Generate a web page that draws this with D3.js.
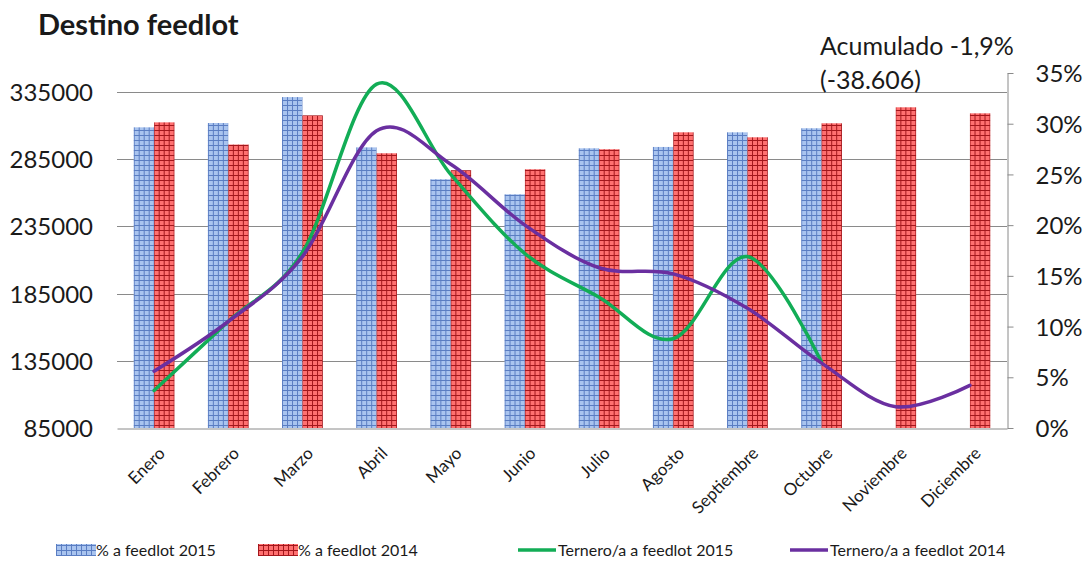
<!DOCTYPE html>
<html>
<head>
<meta charset="utf-8">
<script src="https://cdn.jsdelivr.net/npm/d3@7/dist/d3.min.js"></script>
<style>
  body { margin: 0; background: #fff; }
  #graph { position: relative; width: 1089px; height: 563px; }
  text { font-family: Lato, "Open Sans", sans-serif; fill: #1a1a1a; }
</style>
</head>
<body>
<div id="graph"></div>
<script>
const months = ['Enero', 'Febrero', 'Marzo', 'Abril', 'Mayo', 'Junio', 'Julio',
                'Agosto', 'Septiembre', 'Octubre', 'Noviembre', 'Diciembre'];

// cabezas a feedlot (eje izquierdo)
const feedlot2015 = [308600, 311800, 331100, 293700, 270000, 258800, 293000,
                     294000, 304900, 307900, null, null];
const feedlot2014 = [312300, 295800, 317500, 289300, 276700, 277400, 292300,
                     304900, 301200, 311600, 323500, 319000];

// % terneros a feedlot (eje derecho)
const ternero2015 = [3.7, 10.5, 17.3, 33.9, 25.0, 17.2, 12.9, 8.8, 16.9, 6.5, null, null];
const ternero2014 = [5.6, 10.5, 16.9, 29.3, 26.0, 20.0, 15.8, 15.2, 11.8, 6.4, 2.1, 4.2];

const leftTicks  = [85000, 135000, 185000, 235000, 285000, 335000];
const rightTicks = [0, 5, 10, 15, 20, 25, 30, 35];

class FeedlotChart {
  constructor (options) {
    Object.assign(this, FeedlotChart.DEFAULTS, options);
  }

  draw () {
    this.svg = d3.select(this.el).append('svg')
      .attr('width', this.width)
      .attr('height', this.height);

    this.createPatterns();
    this.createScales();
    this.drawGrid();
    this.drawBars();
    this.drawLines();
    this.addAxes();
    this.addTexts();
    this.addLegend();
  }

  createPatterns () {
    const defs = this.svg.append('defs');
    const mk = (id, bg, fg) => {
      const p = defs.append('pattern')
        .attr('id', id)
        .attr('patternUnits', 'userSpaceOnUse')
        .attr('width', 5).attr('height', 5);
      p.append('rect').attr('width', 5).attr('height', 5).attr('fill', bg);
      p.append('path').attr('d', 'M0,0.5H5M0.5,0V5')
        .attr('stroke', fg).attr('stroke-width', 1);
    };
    mk('pat2015', '#a9c4ef', '#5a7dc2');
    mk('pat2014', '#ff7070', '#a3171c');
  }

  createScales () {
    const m = this.margin;
    this.x0 = d3.scaleBand()
      .domain(months)
      .range([m.left, this.width - m.right])
      .paddingInner(0.45)
      .paddingOuter(0.225);

    this.x1 = d3.scaleBand()
      .domain(['2015', '2014'])
      .range([0, this.x0.bandwidth()]);

    this.yLeft = d3.scaleLinear()
      .domain([85000, 349000])
      .range([m.bottomY, m.top]);

    this.yRight = d3.scaleLinear()
      .domain([0, 35])
      .range([m.bottomY, m.top]);
  }

  drawGrid () {
    const m = this.margin;
    this.svg.append('g').attr('class', 'grid')
      .selectAll('line')
      .data(leftTicks.slice(1))
      .enter().append('line')
      .attr('x1', m.left).attr('x2', this.width - m.right)
      .attr('y1', (d) => Math.round(this.yLeft(d)) + 0.5)
      .attr('y2', (d) => Math.round(this.yLeft(d)) + 0.5)
      .attr('stroke', '#8a8a8a').attr('stroke-width', 1);
  }

  drawBars () {
    const rows = months.map((mo, i) => ({
      month: mo,
      vals: [{key: '2015', v: feedlot2015[i]}, {key: '2014', v: feedlot2014[i]}]
        .filter((d) => d.v != null)
    }));

    const g = this.svg.append('g').attr('class', 'bars');
    g.selectAll('g')
      .data(rows)
      .enter().append('g')
      .attr('transform', (d) => 'translate(' + this.x0(d.month) + ',0)')
      .selectAll('rect')
      .data((d) => d.vals)
      .enter().append('rect')
      .attr('x', (d) => this.x1(d.key))
      .attr('width', this.x1.bandwidth())
      .attr('y', (d) => this.yLeft(d.v))
      .attr('height', (d) => this.yLeft(85000) - this.yLeft(d.v))
      .attr('fill', (d) => 'url(#pat' + d.key + ')');
  }

  drawLines () {
    const cx = (i) => this.x0(months[i]) + this.x0.bandwidth() / 2;
    const line = d3.line()
      .defined((d) => d != null)
      .curve(d3.curveCatmullRom.alpha(0))
      .x((d, i) => cx(i))
      .y((d) => this.yRight(d));

    const series = [
      {vals: ternero2015, color: '#12ad56'},
      {vals: ternero2014, color: '#6a2fa0'}
    ];
    this.svg.append('g').attr('class', 'lines')
      .selectAll('path')
      .data(series)
      .enter().append('path')
      .attr('d', (d) => line(d.vals))
      .attr('fill', 'none')
      .attr('stroke', (d) => d.color)
      .attr('stroke-width', 3.5)
      .attr('stroke-linecap', 'round');
  }

  addAxes () {
    const m = this.margin,
          right = this.width - m.right;

    // eje x
    const xAxis = this.svg.append('g')
      .attr('class', 'x axis')
      .attr('transform', 'translate(0,' + (m.bottomY + 0.5) + ')')
      .call(d3.axisBottom(this.x0).tickSize(0).tickSizeOuter(0));
    xAxis.select('.domain').attr('stroke', '#8a8a8a');
    xAxis.selectAll('text')
      .attr('font-size', 17)
      .attr('text-anchor', 'end')
      .attr('dy', null)
      .attr('y', 0)
      .attr('transform', 'translate(12,26) rotate(-45)');

    // eje izquierdo
    const yAxis = this.svg.append('g')
      .attr('class', 'y axis')
      .attr('transform', 'translate(' + m.left + ',0)')
      .call(d3.axisLeft(this.yLeft).tickValues(leftTicks)
        .tickFormat(d3.format('d')).tickSize(0).tickPadding(24));
    yAxis.select('.domain').remove();
    yAxis.selectAll('text').attr('font-size', 24).attr('dy', '0.36em');

    // eje derecho
    const y2 = this.svg.append('g')
      .attr('class', 'y2 axis')
      .attr('transform', 'translate(' + (right + 0.5) + ',0)')
      .call(d3.axisRight(this.yRight).tickValues(rightTicks)
        .tickFormat((d) => d + '%').tickSize(6).tickSizeOuter(0).tickPadding(22));
    y2.select('.domain').attr('stroke', '#8a8a8a');
    y2.selectAll('line').attr('stroke', '#8a8a8a');
    y2.selectAll('text').attr('font-size', 24).attr('dy', '0.36em');
  }

  addTexts () {
    this.svg.append('text')
      .attr('x', 38).attr('y', 35)
      .attr('font-size', 29).attr('font-weight', 'bold')
      .text('Destino feedlot');

    this.svg.append('text')
      .attr('x', 820).attr('y', 55)
      .attr('font-size', 25)
      .text('Acumulado -1,9%');
    this.svg.append('text')
      .attr('x', 820).attr('y', 89)
      .attr('font-size', 25)
      .text('(-38.606)');
  }

  addLegend () {
    const items = [
      {label: '% a feedlot 2015', type: 'bar', fill: 'url(#pat2015)', x: 56},
      {label: '% a feedlot 2014', type: 'bar', fill: 'url(#pat2014)', x: 258},
      {label: 'Ternero/a a feedlot 2015', type: 'line', color: '#12ad56', x: 518},
      {label: 'Ternero/a a feedlot 2014', type: 'line', color: '#6a2fa0', x: 790}
    ];
    const ly = 550;
    const g = this.svg.append('g').attr('class', 'legend')
      .selectAll('g').data(items).enter().append('g')
      .attr('transform', (d) => 'translate(' + d.x + ',' + ly + ')');

    g.filter((d) => d.type === 'bar').append('rect')
      .attr('x', 0).attr('y', -6).attr('width', 40).attr('height', 12)
      .attr('fill', (d) => d.fill);
    g.filter((d) => d.type === 'line').append('line')
      .attr('x1', 0).attr('x2', 38).attr('y1', 0).attr('y2', 0)
      .attr('stroke', (d) => d.color).attr('stroke-width', 3.5);
    g.append('text')
      .attr('x', 40).attr('y', 0).attr('dy', '0.35em')
      .attr('font-size', 16)
      .text((d) => d.label);
  }
}

FeedlotChart.DEFAULTS = {
  width: 1089,
  height: 563,
  margin: { top: 73, right: 82, bottomY: 428, left: 117 }
};

new FeedlotChart({el: '#graph'}).draw();
</script>
</body>
</html>
